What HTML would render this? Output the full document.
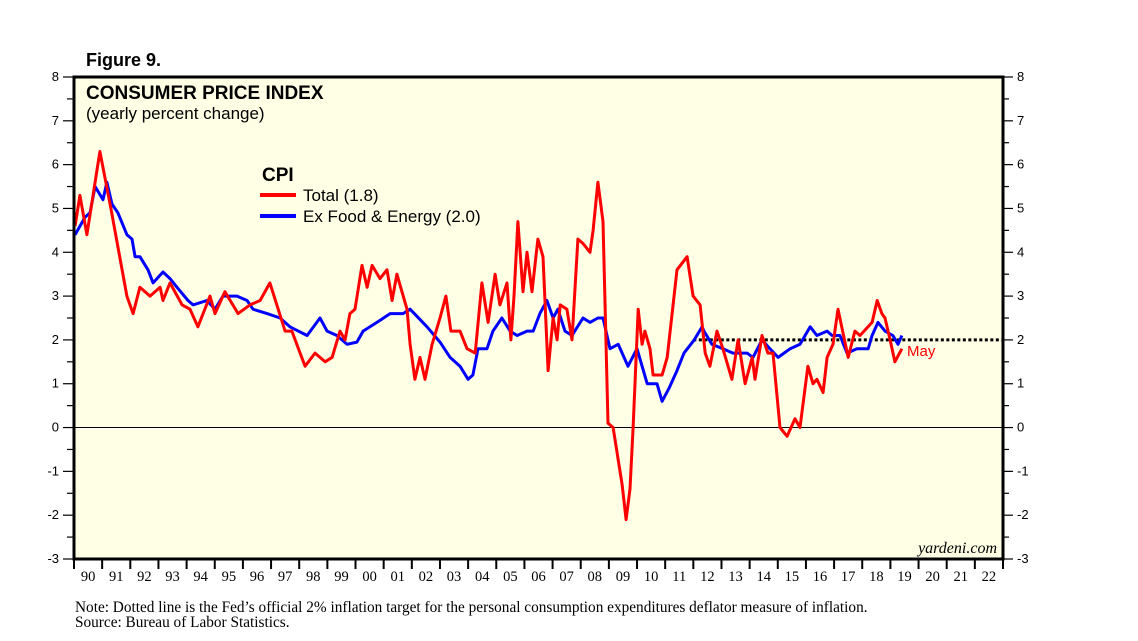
<!DOCTYPE html>
<html><head><meta charset="utf-8"><style>
body{margin:0;background:#fff;}
svg{display:block;}
</style></head><body>
<svg id="chart" width="1138" height="641" xmlns="http://www.w3.org/2000/svg">
<rect x="0" y="0" width="1138" height="641" fill="#fff"/>
<text x="86" y="66" font-family="Liberation Sans, sans-serif" font-weight="bold" font-size="18">Figure 9.</text>
<rect x="74" y="77" width="929" height="482" fill="#ffffe6"/>
<g id="grid"></g>
<g id="series"></g>
<rect x="74" y="77" width="929" height="482" fill="none" stroke="#000" stroke-width="3"/>
<g id="axes"></g>
<text x="86" y="99" font-family="Liberation Sans, sans-serif" font-weight="bold" font-size="19">CONSUMER PRICE INDEX</text>
<text x="86" y="119" font-family="Liberation Sans, sans-serif" font-size="17">(yearly percent change)</text>
<text x="262" y="181" font-family="Liberation Sans, sans-serif" font-weight="bold" font-size="19">CPI</text>
<line x1="260" y1="195" x2="296" y2="195" stroke="#f00" stroke-width="4"/>
<text x="303" y="201" font-family="Liberation Sans, sans-serif" font-size="17">Total (1.8)</text>
<line x1="260" y1="216" x2="296" y2="216" stroke="#00f" stroke-width="4"/>
<text x="303" y="222" font-family="Liberation Sans, sans-serif" font-size="17">Ex Food &amp; Energy (2.0)</text>
<text x="907" y="356" fill="#f00" font-family="Liberation Sans, sans-serif" font-size="15">May</text>
<text x="997" y="553" text-anchor="end" font-family="Liberation Serif, serif" font-style="italic" font-size="16">yardeni.com</text>
<text x="75" y="612" font-family="Liberation Serif, serif" font-size="15.3">Note: Dotted line is the Fed’s official 2% inflation target for the personal consumption expenditures deflator measure of inflation.</text>
<text x="75" y="627" font-family="Liberation Serif, serif" font-size="15.3">Source: Bureau of Labor Statistics.</text>
</svg>
<script>
const yTicks=[-3,-2,-1,0,1,2,3,4,5,6,7,8];
const yearLabels=["90","91","92","93","94","95","96","97","98","99","00","01","02","03","04","05","06","07","08","09","10","11","12","13","14","15","16","17","18","19","20","21","22"];
const totalT=[1990.04,1990.21,1990.46,1990.92,1991.31,1991.88,1992.10,1992.34,1992.70,1993.06,1993.16,1993.41,1993.84,1994.12,1994.40,1994.83,1995.01,1995.36,1995.83,1996.25,1996.61,1996.96,1997.50,1997.74,1998.03,1998.21,1998.56,1998.92,1999.17,1999.45,1999.63,1999.80,1999.98,2000.23,2000.41,2000.59,2000.87,2001.12,2001.30,2001.47,2001.83,2001.94,2002.11,2002.29,2002.47,2002.72,2003.00,2003.21,2003.39,2003.71,2003.96,2004.25,2004.49,2004.71,2004.96,2005.13,2005.38,2005.52,2005.63,2005.77,2005.95,2006.09,2006.27,2006.48,2006.66,2006.84,2007.02,2007.16,2007.27,2007.51,2007.69,2007.90,2008.08,2008.33,2008.44,2008.61,2008.79,2008.97,2009.15,2009.47,2009.61,2009.75,2009.86,2010.04,2010.18,2010.28,2010.46,2010.57,2010.89,2011.07,2011.42,2011.78,2011.99,2012.24,2012.42,2012.59,2012.84,2013.05,2013.37,2013.59,2013.84,2014.09,2014.19,2014.44,2014.65,2014.83,2015.08,2015.33,2015.61,2015.79,2016.07,2016.25,2016.39,2016.61,2016.75,2016.96,2017.14,2017.50,2017.74,2017.92,2018.35,2018.53,2018.70,2018.81,2018.99,2019.16,2019.41];
const totalV=[4.6,5.3,4.4,6.3,5.0,3.0,2.6,3.2,3.0,3.2,2.9,3.3,2.8,2.7,2.3,3.0,2.6,3.1,2.6,2.8,2.9,3.3,2.2,2.2,1.7,1.4,1.7,1.5,1.6,2.2,2.0,2.6,2.7,3.7,3.2,3.7,3.4,3.6,2.9,3.5,2.7,1.9,1.1,1.6,1.1,1.9,2.5,3.0,2.2,2.2,1.8,1.7,3.3,2.4,3.5,2.8,3.3,2.0,3.0,4.7,3.1,4.0,3.1,4.3,3.9,1.3,2.5,2.0,2.8,2.7,2.0,4.3,4.2,4.0,4.5,5.6,4.7,0.1,0.0,-1.3,-2.1,-1.4,0.0,2.7,1.9,2.2,1.8,1.2,1.2,1.6,3.6,3.9,3.0,2.8,1.7,1.4,2.2,1.8,1.1,2.0,1.0,1.6,1.1,2.1,1.7,1.7,0.0,-0.2,0.2,0.0,1.4,1.0,1.1,0.8,1.6,1.9,2.7,1.6,2.2,2.1,2.4,2.9,2.6,2.5,2.0,1.5,1.8];
const coreT=[1990.04,1990.39,1990.57,1990.75,1991.03,1991.17,1991.35,1991.56,1991.88,1992.06,1992.17,1992.34,1992.63,1992.81,1993.16,1993.41,1993.66,1994.05,1994.23,1994.72,1995.01,1995.29,1995.79,1996.15,1996.36,1996.86,1997.32,1997.67,1998.28,1998.74,1998.99,1999.34,1999.70,2000.05,2000.27,2000.76,2001.23,2001.69,2001.94,2002.54,2003.00,2003.36,2003.71,2004.00,2004.17,2004.35,2004.67,2004.88,2005.20,2005.49,2005.74,2006.09,2006.31,2006.55,2006.80,2007.02,2007.19,2007.44,2007.69,2008.08,2008.33,2008.61,2008.79,2009.04,2009.33,2009.68,2010.00,2010.36,2010.71,2010.89,2011.14,2011.42,2011.67,2012.03,2012.31,2012.38,2012.66,2013.05,2013.41,2013.91,2014.12,2014.44,2014.72,2015.01,2015.44,2015.79,2016.15,2016.39,2016.75,2016.93,2017.21,2017.46,2017.81,2018.21,2018.35,2018.56,2018.81,2019.09,2019.27,2019.41];
const coreV=[4.4,4.8,4.9,5.5,5.2,5.6,5.1,4.9,4.4,4.3,3.9,3.9,3.6,3.3,3.55,3.4,3.2,2.9,2.8,2.9,2.7,3.0,3.0,2.9,2.7,2.6,2.5,2.3,2.1,2.5,2.2,2.1,1.9,1.95,2.2,2.4,2.6,2.6,2.7,2.3,1.95,1.6,1.4,1.1,1.2,1.8,1.8,2.2,2.5,2.2,2.1,2.2,2.2,2.6,2.9,2.5,2.7,2.2,2.1,2.5,2.4,2.5,2.5,1.8,1.9,1.4,1.8,1.0,1.0,0.6,0.9,1.3,1.7,2.0,2.3,2.2,1.9,1.8,1.7,1.7,1.6,2.0,1.8,1.6,1.8,1.9,2.3,2.1,2.2,2.1,2.1,1.7,1.8,1.8,2.1,2.4,2.2,2.1,1.9,2.1];
const fedTarget=2;
const targetStart=2012.0;

const X0=74,X1=1003,Y0=77,Y1=559,T0=1990,T1=2023;
const NS="http://www.w3.org/2000/svg";
function xs(t){return X0+(t-T0)/(T1-T0)*(X1-X0);}
function ys(v){return Y1-(v-(-3))/(8-(-3))*(Y1-Y0);}
function mk(tag,attrs,parent){const e=document.createElementNS(NS,tag);for(const k in attrs)e.setAttribute(k,attrs[k]);parent.appendChild(e);return e;}
const grid=document.getElementById('grid'),series=document.getElementById('series'),axes=document.getElementById('axes');

const zero=mk('line',{x1:X0,x2:X1,y1:ys(0),y2:ys(0),stroke:'#000','stroke-width':1},grid);



const tl=mk('line',{x1:xs(targetStart),x2:X1,y1:ys(fedTarget),y2:ys(fedTarget),stroke:'#000','stroke-width':3,'stroke-dasharray':'3,2.5'},grid);



function line(T,V,color,name){
  let d='';for(let i=0;i<T.length;i++){d+=(i?'L':'M')+xs(T[i]).toFixed(1)+','+ys(V[i]).toFixed(1);}
  const p=mk('path',{d:d,fill:'none',stroke:color,'stroke-width':3,'stroke-linejoin':'round'},series);
  
  
}
line(coreT,coreV,'#00f','core-cpi-line');
line(totalT,totalV,'#f00','total-cpi-line');

yTicks.forEach(v=>{
  const y=ys(v);
  const a=mk('line',{x1:63,x2:X0,y1:y,y2:y,stroke:'#000','stroke-width':1.2},axes);
  
  
  const b=mk('line',{x1:X1,x2:1013,y1:y,y2:y,stroke:'#000','stroke-width':1.2},axes);
  
  
  if(v<8){const yh=ys(v+0.5);
    const c=mk('line',{x1:67,x2:X0,y1:yh,y2:yh,stroke:'#000','stroke-width':1.2},axes);
    
    
    const d=mk('line',{x1:X1,x2:1009,y1:yh,y2:yh,stroke:'#000','stroke-width':1.2},axes);
    
    }
  const l=mk('text',{x:59,y:y+4,'text-anchor':'end','font-family':'Liberation Sans, sans-serif','font-size':13},axes);
  l.textContent=v;
  
  
  const r=mk('text',{x:1017,y:y+4,'font-family':'Liberation Sans, sans-serif','font-size':13},axes);
  r.textContent=v;
  
  
});
yearLabels.forEach((s,i)=>{
  const x=xs(T0+i);
  const t=mk('line',{x1:x,x2:x,y1:Y1,y2:Y1+10,stroke:'#000','stroke-width':2},axes);
  
  
  const l=mk('text',{x:xs(T0+i+0.5),y:581,'text-anchor':'middle','font-family':'Liberation Serif, serif','font-size':14.5},axes);
  l.textContent=s;
  
  
});
const lt=mk('line',{x1:X1,x2:X1,y1:Y1,y2:Y1+10,stroke:'#000','stroke-width':2},axes);


</script>
</body></html>
